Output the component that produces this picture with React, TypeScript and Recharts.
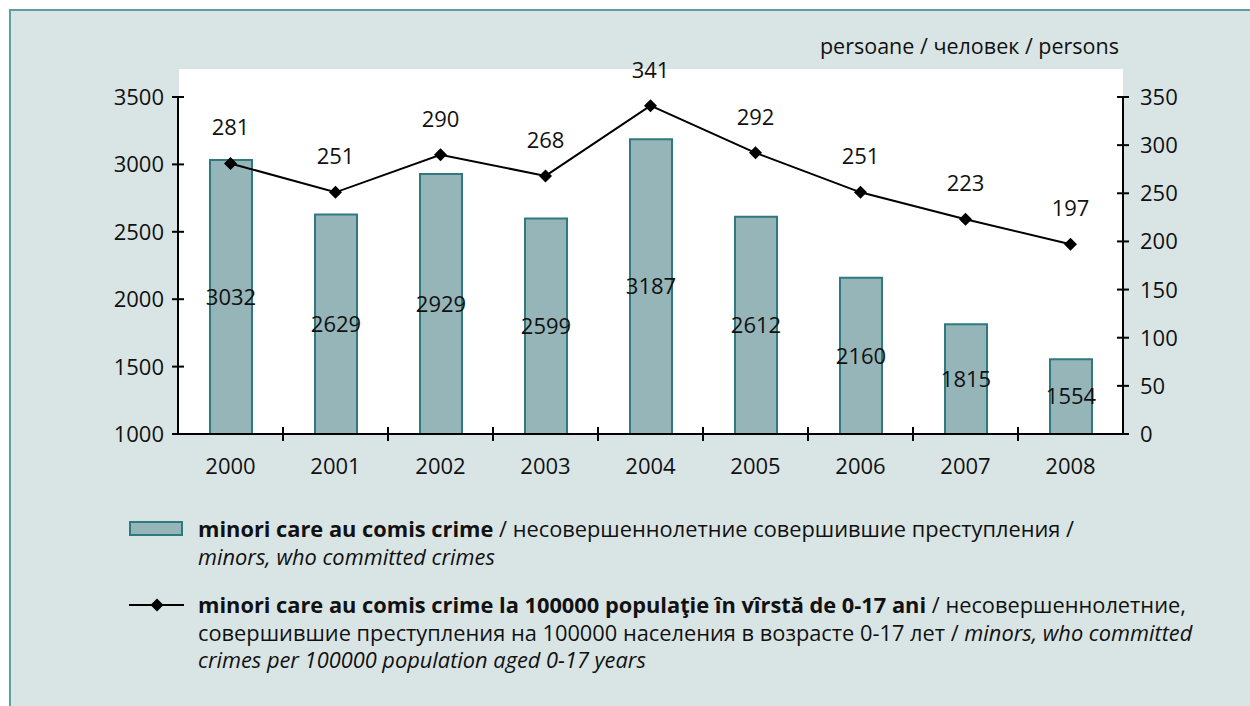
import React from 'react';
import { ComposedChart, Bar, Line, XAxis, YAxis, LabelList } from 'recharts';

const years = ['2000', '2001', '2002', '2003', '2004', '2005', '2006', '2007', '2008'];
const minors = [3032, 2629, 2929, 2599, 3187, 2612, 2160, 1815, 1554];
const ratePer100k = [281, 251, 290, 268, 341, 292, 251, 223, 197];
const leftTicks = [1000, 1500, 2000, 2500, 3000, 3500];
const rightTicks = [0, 50, 100, 150, 200, 250, 300, 350];

const data = years.map((year, i) => ({ year, minors: minors[i], rate: ratePer100k[i] }));

const FONT = '"Open Sans", "Noto Sans", sans-serif';
const BG = '#d9e4e4';
const BAR_FILL = '#96b5b9';
const BAR_STROKE = '#2f7a7e';

const LeftTick = (props: any) => {
  const { x, y, payload } = props;
  return (
    <g>
      <line x1={x - 6} x2={x + 6} y1={y} y2={y} stroke="#000" strokeWidth={2} />
      <text x={x - 14} y={y} dy={8} textAnchor="end" fontSize={22} fontFamily={FONT} fill="#111">
        {payload.value}
      </text>
    </g>
  );
};

const RightTick = (props: any) => {
  const { x, y, payload } = props;
  return (
    <g>
      <line x1={x - 6} x2={x + 6} y1={y} y2={y} stroke="#000" strokeWidth={2} />
      <text x={x + 17} y={y} dy={8} textAnchor="start" fontSize={22} fontFamily={FONT} fill="#111">
        {payload.value}
      </text>
    </g>
  );
};

const YearTick = (props: any) => {
  const { x, y, payload, index } = props;
  const half = payload.offset || 52.5;
  return (
    <g>
      {index < years.length - 1 && (
        <line x1={x + half} x2={x + half} y1={y - 7} y2={y + 7} stroke="#000" strokeWidth={2} />
      )}
      <text x={x} y={y} dy={40} textAnchor="middle" fontSize={22} fontFamily={FONT} fill="#111">
        {payload.value}
      </text>
    </g>
  );
};

const Diamond = (props: any) => {
  const { cx, cy } = props;
  if (cx == null || cy == null) return null;
  const s = 6.5;
  return <polygon points={`${cx},${cy - s} ${cx + s},${cy} ${cx},${cy + s} ${cx - s},${cy}`} fill="#000" />;
};

const legendText: React.CSSProperties = {
  position: 'absolute',
  left: 198,
  fontFamily: FONT,
  fontSize: 21.8,
  lineHeight: '27.5px',
  color: '#111',
  width: 1040,
  whiteSpace: 'nowrap',
};

export default function App() {
  return (
    <div style={{ position: 'absolute', left: 0, top: 0, width: 1250, height: 706, background: '#fff', overflow: 'hidden' }}>
      <div
        style={{
          position: 'absolute', left: 9, top: 9, width: 1260, height: 720, background: BG,
          borderLeft: '2px solid #5f9ea0', borderTop: '2px solid #5f9ea0',
        }}
      />
      <div style={{ position: 'absolute', left: 179, top: 69, width: 944, height: 366, background: '#fff' }} />
      <div
        style={{
          position: 'absolute', right: 1250 - 1119, top: 31, fontFamily: FONT, fontSize: 21.5,
          color: '#111', whiteSpace: 'nowrap',
        }}
      >
        persoane / человек / persons
      </div>
      <div style={{ position: 'absolute', left: 0, top: 0 }}>
        <ComposedChart width={1250} height={480} data={data} margin={{ top: 97, right: 67, bottom: 6, left: 118 }}>
          <XAxis
            dataKey="year"
            height={40}
            axisLine={{ stroke: '#000', strokeWidth: 2 }}
            tickLine={false}
            tickSize={0}
            tickMargin={0}
            tick={<YearTick />}
            interval={0}
          />
          <YAxis
            yAxisId="left"
            width={60}
            domain={[1000, 3500]}
            ticks={leftTicks}
            allowDataOverflow
            axisLine={{ stroke: '#000', strokeWidth: 2 }}
            tickLine={false}
            tickSize={0}
            tickMargin={0}
            tick={<LeftTick />}
          />
          <YAxis
            yAxisId="right"
            orientation="right"
            width={60}
            domain={[0, 350]}
            ticks={rightTicks}
            axisLine={{ stroke: '#000', strokeWidth: 2 }}
            tickLine={false}
            tickSize={0}
            tickMargin={0}
            tick={<RightTick />}
          />
          <Bar yAxisId="left" dataKey="minors" barSize={42} fill={BAR_FILL} stroke={BAR_STROKE} strokeWidth={2} isAnimationActive={false}>
            <LabelList dataKey="minors" position="center" fontSize={22} fontFamily={FONT} fill="#111" />
          </Bar>
          <Line
            yAxisId="right"
            dataKey="rate"
            stroke="#000"
            strokeWidth={2}
            dot={<Diamond />}
            activeDot={false}
            isAnimationActive={false}
          >
            <LabelList dataKey="rate" position="top" offset={28} fontSize={22} fontFamily={FONT} fill="#111" />
          </Line>
        </ComposedChart>
      </div>

      {/* legend */}
      <svg style={{ position: 'absolute', left: 0, top: 0 }} width={200} height={706}>
        <rect x={130} y={522} width={52} height={13} fill={BAR_FILL} stroke={BAR_STROKE} strokeWidth={2} />
        <line x1={129} x2={184} y1={605} y2={605} stroke="#000" strokeWidth={2} />
        <Diamond cx={157} cy={605} />
      </svg>
      <div style={{ ...legendText, top: 515 }}>
        <b>minori care au comis crime</b> / несовершеннолетние совершившие преступления /<br />
        <i>minors, who committed crimes</i>
      </div>
      <div style={{ ...legendText, top: 591 }}>
        <b>minori care au comis crime la 100000 populaţie în vîrstă de 0-17 ani</b> / несовершеннолетние,<br />
        совершившие преступления на 100000 населения в возрасте 0-17 лет / <i>minors, who committed</i><br />
        <i>crimes per 100000 population aged 0-17 years</i>
      </div>
    </div>
  );
}
